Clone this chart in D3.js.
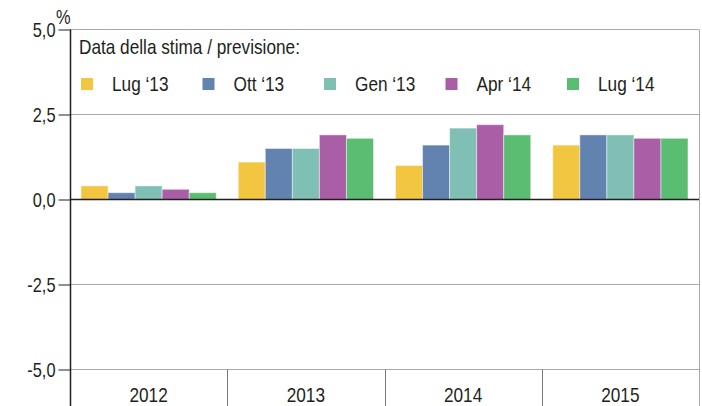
<!DOCTYPE html>
<html>
<head>
<meta charset="utf-8">
<script src="https://cdn.jsdelivr.net/npm/d3@7"></script>
<style>
  body { margin: 0; background: #fff; }
  svg text { font-family: "Liberation Sans", Arial, sans-serif; fill: #231f20; }
</style>
</head>
<body>
<div class="chart"></div>
<script>
// categories and series
let years = ['2012', '2013', '2014', '2015'];
let seriesNames = ['Lug \u201813', 'Ott \u201813', 'Gen \u201813', 'Apr \u201814', 'Lug \u201814'];
let seriesColors = ['#f2c641', '#6283b0', '#7fbfb4', '#a95ea6', '#5bbd72'];

// values per series, one per year
let lug13 = [0.4, 1.1, 1.0, 1.6];
let ott13 = [0.2, 1.5, 1.6, 1.9];
let gen13 = [0.4, 1.5, 2.1, 1.9];
let apr14 = [0.3, 1.9, 2.2, 1.8];
let lug14 = [0.2, 1.8, 1.9, 1.8];

let yTicks = [-5, -2.5, 0, 2.5, 5];
let legendTitle = 'Data della stima / previsione:';

(function() {
  let values = [lug13, ott13, gen13, apr14, lug14];
  let width = 702, height = 406;
  let narrow = 0.82; // squeeze text horizontally, the original uses a condensed face

  let svg = d3.select('.chart').append('svg')
    .attr('width', width)
    .attr('height', height);

  // put a condensed text at x, y
  function placeText(sel, x, y) {
    sel.attr('transform', (d, i) => {
      let px = typeof x === 'function' ? x(d, i) : x;
      let py = typeof y === 'function' ? y(d, i) : y;
      return 'translate(' + px + ',' + py + ') scale(' + narrow + ',1)';
    });
  }

  // scales
  let y = d3.scaleLinear().domain([-5, 5]).range([369.5, 29.5]);
  let x = d3.scaleBand().domain(years).range([70, 699]);
  let xInner = d3.scaleBand().domain(seriesNames).range([11, x.bandwidth() - 11]);

  // grid lines
  svg.append('g').selectAll('line')
    .data(yTicks)
    .enter().append('line')
      .attr('x1', 70).attr('x2', 699)
      .attr('y1', (d) => y(d)).attr('y2', (d) => y(d))
      .attr('stroke', '#aaaaaa')
      .attr('stroke-width', 1);

  // right border
  svg.append('line')
    .attr('x1', 699.5).attr('x2', 699.5)
    .attr('y1', y(5)).attr('y2', height)
    .attr('stroke', '#aaaaaa');

  // year separators below -5
  svg.append('g').selectAll('line')
    .data(years.slice(1))
    .enter().append('line')
      .attr('x1', (d) => Math.round(x(d)) + 0.5)
      .attr('x2', (d) => Math.round(x(d)) + 0.5)
      .attr('y1', y(-5)).attr('y2', height)
      .attr('stroke', '#777777');

  // bars
  let groups = svg.append('g').selectAll('g')
    .data(years)
    .enter().append('g')
      .attr('transform', (d) => 'translate(' + x(d) + ',0)');

  groups.selectAll('rect')
    .data((d, i) => seriesNames.map((s, j) => ({ s: s, v: values[j][i], c: seriesColors[j] })))
    .enter().append('rect')
      .attr('x', (d) => xInner(d.s))
      .attr('y', (d) => y(d.v))
      .attr('width', xInner.bandwidth())
      .attr('height', (d) => y(0) - y(d.v))
      .attr('fill', (d) => d.c)
      .attr('stroke', 'rgba(255,255,255,0.45)')
      .attr('stroke-width', 1);

  // zero line over bars
  svg.append('line')
    .attr('x1', 70).attr('x2', 699)
    .attr('y1', y(0)).attr('y2', y(0))
    .attr('stroke', '#231f20').attr('stroke-width', 1.5);

  // y axis
  let yAxis = d3.axisLeft(y)
    .tickValues(yTicks)
    .tickSize(12)
    .tickSizeOuter(0)
    .tickPadding(3)
    .tickFormat((d) => d3.format('.1f')(d).replace('.', ',').replace('\u2212', '-'));

  let yg = svg.append('g')
    .attr('transform', 'translate(70.5,0)')
    .call(yAxis);
  yg.select('.domain').remove();
  yg.selectAll('.tick line').attr('stroke', '#231f20');
  yg.selectAll('.tick text')
    .attr('font-size', 20)
    .attr('font-family', null)
    .attr('x', null)
    .attr('dy', '0.36em');
  placeText(yg.selectAll('.tick text'), -15, 0);

  svg.append('line')
    .attr('x1', 70.5).attr('x2', 70.5)
    .attr('y1', y(5)).attr('y2', height)
    .attr('stroke', '#231f20').attr('stroke-width', 1.5);

  placeText(svg.append('text')
    .attr('font-size', 20)
    .text('%'), 56, 24);

  // year labels
  placeText(svg.append('g').selectAll('text')
    .data(years)
    .enter().append('text')
      .attr('text-anchor', 'middle')
      .attr('font-size', 21)
      .text((d) => d),
    (d) => x(d) + x.bandwidth() / 2, 402);

  // legend
  placeText(svg.append('text')
    .attr('font-size', 21)
    .text(legendTitle), 79, 54);

  let legendX = d3.scaleLinear().domain([0, 1]).range([81, 202.5]);
  let legend = svg.append('g').selectAll('g')
    .data(seriesNames)
    .enter().append('g')
      .attr('transform', (d, i) => 'translate(' + legendX(i) + ',0)');

  legend.append('rect')
    .attr('x', 0).attr('y', 78)
    .attr('width', 12).attr('height', 12)
    .attr('fill', (d, i) => seriesColors[i]);

  placeText(legend.append('text')
    .attr('font-size', 21)
    .text((d) => d), 31, 91);
})();
</script>
</body>
</html>
